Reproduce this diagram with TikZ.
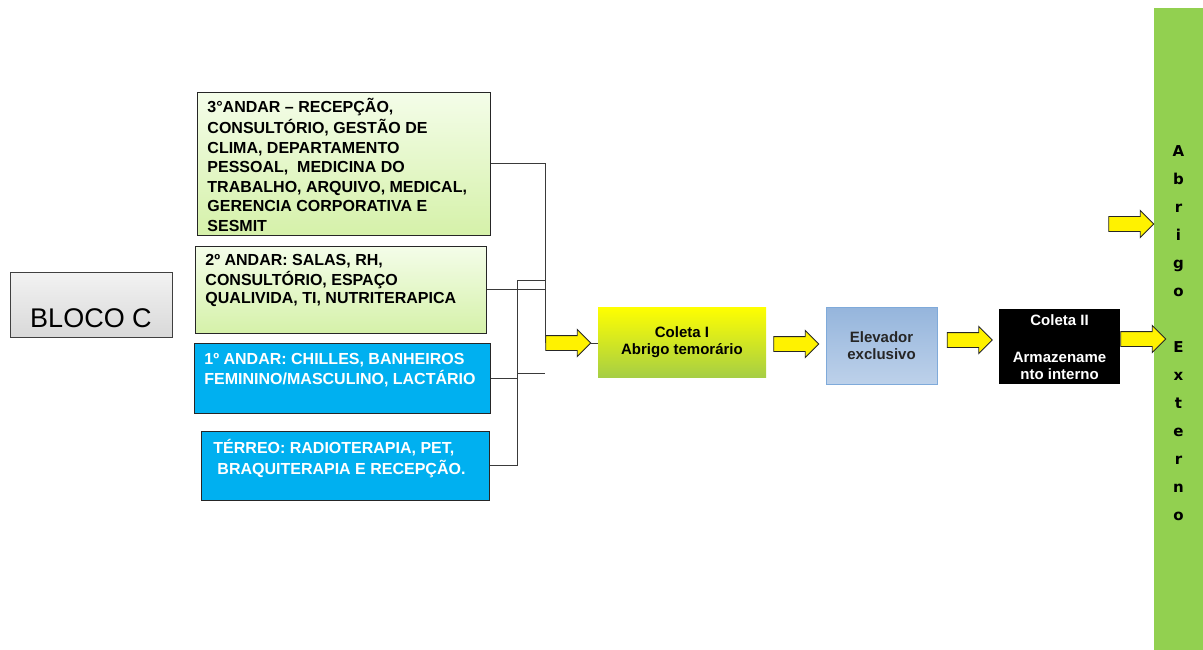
\documentclass[tikz,border=0pt]{standalone}
\usepackage{fontspec}
\setmainfont{Liberation Sans}
\newfontfamily\abrigofont{DejaVu Sans}
\usetikzlibrary{shapes.arrows,calc,positioning}
\definecolor{floorgreentop}{HTML}{F4FDE9}
\definecolor{floorgreenbot}{HTML}{D5F1A9}
\definecolor{floorblue}{HTML}{00B0F0}
\definecolor{coletagreen}{HTML}{A6CE45}
\definecolor{elevtop}{HTML}{95B5DC}
\definecolor{elevbot}{HTML}{BDD1EA}
\definecolor{elevborder}{HTML}{7FAADA}
\definecolor{abrigogreen}{HTML}{92D050}
\definecolor{linegray}{HTML}{3A3A3A}
\tikzset{
  floorgreen/.style={draw=black!85,line width=0.9pt,top color=floorgreentop,bottom color=floorgreenbot,anchor=north west,inner xsep=10pt,inner ysep=6pt,font=\bfseries\fontsize{16}{19.5}\selectfont},
  floorbluebox/.style={draw=black!85,line width=0.9pt,fill=floorblue,text=white,anchor=north west,inner xsep=10pt,inner ysep=6pt,font=\bfseries\fontsize{16}{18}\selectfont},
  stepbox/.style={inner sep=0pt,align=center,font=\bfseries\fontsize{15}{17}\selectfont},
  bigarrow/.style={single arrow,draw=black!85,fill=yellow,line width=0.9pt,minimum height=45pt,single arrow head extend=6pt,inner xsep=0pt,inner ysep=7pt},
  link/.style={linegray,line width=1pt}
}
\begin{document}
\begin{tikzpicture}[x=1pt,y=-1pt]
\useasboundingbox (0,0) rectangle (1203,650);
% bloco e andares
\node[draw=black!75,line width=0.9pt,top color=black!5,bottom color=black!15,minimum width=162pt,minimum height=65pt,inner sep=0pt,text height=45pt,text depth=0pt,font=\fontsize{27}{30}\selectfont] (bloco) at (91,304.5) {BLOCO C};
\node[floorgreen] (f3) at (197,92) {\parbox[c][131pt][t]{273pt}{\strut 3°ANDAR – RECEPÇÃO,\\CONSULTÓRIO, GESTÃO DE\\CLIMA, DEPARTAMENTO\\PESSOAL,\ \ MEDICINA DO\\TRABALHO, ARQUIVO, MEDICAL,\\GERENCIA CORPORATIVA E\\SESMIT}};
\node[floorgreen,font=\bfseries\fontsize{16}{18}\selectfont] (f2) at (195,246) {\parbox[c][75pt][t]{271pt}{\strut 2º ANDAR: SALAS, RH,\\CONSULTÓRIO, ESPAÇO\\QUALIVIDA, TI, NUTRITERAPICA}};
\node[floorbluebox] (f1) at (194,343) {\parbox[c][58pt][t]{276pt}{\vspace*{2pt}\strut 1º ANDAR: CHILLES, BANHEIROS\\FEMININO/MASCULINO, LACTÁRIO}};
\node[floorbluebox,inner xsep=12pt] (ter) at (201,431) {\parbox[c][57pt][t]{264pt}{\vspace*{2pt}\strut TÉRREO: RADIOTERAPIA, PET,\\\hspace*{4pt}BRAQUITERAPIA E RECEPÇÃO.}};
% fluxo
\node[stepbox,top color=yellow,bottom color=coletagreen,minimum width=168pt,minimum height=70pt] (c1) at (682,342) {Coleta I\\Abrigo temorário};
\node[stepbox,draw=elevborder,line width=0.9pt,top color=elevtop,bottom color=elevbot,text=black!85,minimum width=111pt,minimum height=77pt] (elev) at (881.5,345.5) {Elevador\\exclusivo};
\node[stepbox,fill=black,text=white,inner ysep=6pt] (c2) at (1059.5,346) {\parbox[c][63pt][t]{121pt}{\centering Coleta II\\[20pt]Armazename\\nto interno}};
\node[fill=abrigogreen,minimum width=49pt,minimum height=650pt,inner sep=0pt,align=center,font=\abrigofont\bfseries\fontsize{15}{28}\selectfont] (abrigo) at (1178.5,333) {A\\b\\r\\i\\g\\o\\[28pt]E\\x\\t\\e\\r\\n\\o};
% setas
\node[bigarrow] (a1) at (564.5,343) {};
\node[bigarrow] (a2) at (792.5,344) {};
\node[bigarrow] (a3) at (966,340) {};
\node[bigarrow] (a4) at (1139.5,339) {};
\node[bigarrow] (a5) at (1127.5,224) {};
% ligacoes
\coordinate (jB) at (517,280);
\coordinate (jC) at (517,373);
\draw[link] (f3.east) -| (a1.west);
\draw[link] (f2.east) -- (f2.east -| a1.west);
\draw[link] (ter.east) -| (jB) -- (jB -| a1.west);
\draw[link] (f1.east) -- (f1.east -| jB);
\draw[link] (jC) -- (jC -| a1.west);
\draw[link] (a1.tip) -- (a1.tip -| c1.west);
\end{tikzpicture}
\end{document}
